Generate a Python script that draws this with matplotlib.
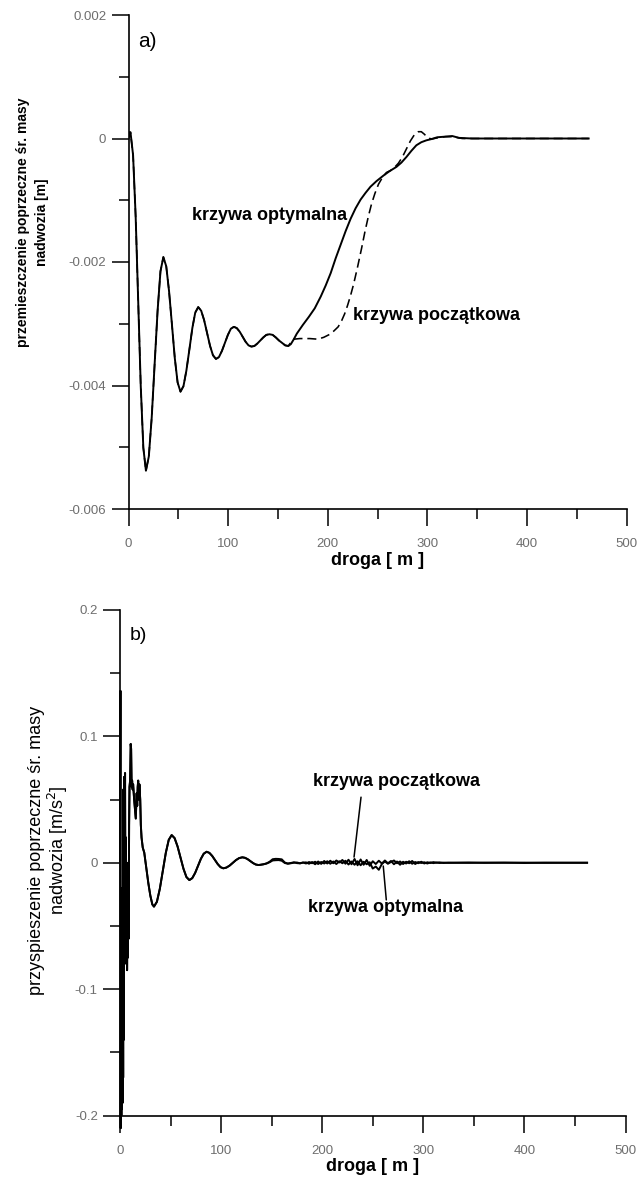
import matplotlib
matplotlib.use("Agg")
import matplotlib.pyplot as plt
from matplotlib.ticker import FixedLocator, FixedFormatter, MultipleLocator

plt.rcParams['font.family'] = ['Liberation Sans', 'DejaVu Sans']
plt.rcParams['lines.scale_dashes'] = False

# ---------------- a) przemieszczenie poprzeczne [m] ----------------
# odcinek wspólny obu krzywych (drgania gasnące)
droga_a_wsp = [0, 1, 2, 4.6, 7.2, 9.75, 12.3, 14.9, 17.5, 20.4, 23.3, 26.25, 29.2,
               32.1, 35, 37.9, 40.7, 43.6, 46.5, 49.3, 52.2, 55.2, 58.1, 61.1, 64.1,
               67, 70, 73, 75.9, 78.9, 81.9, 84.8, 87.8, 90.8, 93.8, 96.8, 99.8,
               102.8, 105.8, 108.7, 111.7, 114.6, 117.5, 120.5, 123.4, 126.4, 129.4,
               132.4, 135.4, 138.4, 141.5, 144.7, 147.8, 151, 154.2, 157.3, 160.5]
przem_wsp = [0, 0.0001, 0.0001, -0.00027, -0.00127, -0.00264, -0.00401, -0.00501,
             -0.00538, -0.00515, -0.00452, -0.00365, -0.00279, -0.00215, -0.00192,
             -0.00207, -0.00247, -0.00301, -0.00356, -0.00395, -0.0041, -0.00401,
             -0.00376, -0.00342, -0.00307, -0.00282, -0.00273, -0.00279, -0.00294,
             -0.00315, -0.00336, -0.00351, -0.00357, -0.00354, -0.00344, -0.00331,
             -0.00318, -0.00308, -0.00305, -0.00307, -0.00313, -0.00321, -0.00329,
             -0.00335, -0.00337, -0.00336, -0.00332, -0.00327, -0.00322, -0.00318,
             -0.00317, -0.00318, -0.00322, -0.00327, -0.00331, -0.00335, -0.00336]

# krzywa optymalna - dalszy przebieg
droga_a_opt = [163, 166, 169, 175, 181, 187, 193, 198, 203, 208, 213, 218, 223, 228,
               233, 238, 243, 249, 256, 262, 269, 274, 279, 284, 289, 294, 299, 304,
               310, 318, 325, 332, 345, 400, 462]
przem_opt = [-0.00333, -0.00325, -0.00316, -0.00302, -0.00289, -0.00275, -0.00256,
             -0.00238, -0.00218, -0.00194, -0.00172, -0.0015, -0.0013, -0.00113,
             -0.00099, -0.00088, -0.00078, -0.00069, -0.0006, -0.00053, -0.00046,
             -0.00039, -0.0003, -0.0002, -0.00011, -0.00006, -0.00003, -0.00001,
             0.00002, 0.00003, 0.00004, 0.00001, 0.0, 0.0, 0.0]

# krzywa początkowa - dalszy przebieg
droga_a_pocz = [163, 166, 172, 182, 190, 196, 201, 206, 210.5, 214, 217, 220, 223,
                226, 230, 234, 237.5, 240.7, 244, 247.4, 251, 255, 259, 263, 267, 271,
                275, 279, 283, 287, 291, 294, 297, 300, 304, 310, 318, 325, 335, 350,
                400, 462]
przem_pocz = [-0.0033, -0.00325, -0.00324, -0.00324, -0.00325, -0.00322, -0.00318,
              -0.00312, -0.00305, -0.00295, -0.00284, -0.0027, -0.00254, -0.00236,
              -0.00208, -0.00178, -0.0015, -0.00127, -0.00106, -0.00089, -0.00074,
              -0.00063, -0.00055, -0.00052, -0.00047, -0.0004, -0.0003, -0.00017,
              -0.00004, 0.00006, 0.00011, 0.00011, 0.00007, 0.00002, -0.00001,
              0.00001, 0.00003, 0.00003, 0.0, 0.0, 0.0, 0.0]

# ---------------- b) przyspieszenie poprzeczne [m/s2] ----------------
droga_b_wsp = [0, 0.4, 0.7, 1.0, 1.3, 1.6, 1.9, 2.2, 2.5, 2.8, 3.1, 3.4, 3.8, 4.2,
               4.6, 5.0, 5.4, 5.8, 6.2, 6.6, 7.0, 7.4, 7.8, 8.2, 8.6, 9.0, 9.4, 10.0,
               10.6, 11.0, 11.5, 12.0, 12.5, 13.0, 14.0, 15.0, 15.6, 16.5, 17.0, 17.5,
               18.0, 18.6, 19.2, 20.0, 20.6, 21.3, 22.5, 24.0, 26.0, 28.0, 30.0, 32.0,
               33.6, 36.5, 39.4, 42.35, 45.3, 48.2, 51.1, 54.0, 56.9, 59.85, 62.8,
               65.7, 68.6, 71.45, 74.3, 77.15, 80.0, 82.85, 85.7, 88.45, 91.2, 93.95,
               96.7, 99.45, 102.2, 105.3, 108.5, 111.6, 114.7, 117.9, 121.0, 123.7,
               126.3, 129.0, 131.7, 134.3, 137.0]
przysp_wsp = [0, 0.136, -0.21, -0.05, -0.20, -0.02, -0.195, -0.06, -0.19, -0.03,
              -0.17, 0.058, -0.14, 0.068, -0.08, 0.071, -0.06, 0.02, -0.02, 0.0,
              -0.085, -0.03, -0.075, 0.0, -0.06, 0.03, 0.06, 0.065, 0.094, 0.09,
              0.06, 0.065, 0.058, 0.062, 0.05, 0.04, 0.035, 0.055, 0.045, 0.06,
              0.065, 0.05, 0.062, 0.05, 0.03, 0.02, 0.012, 0.008, -0.004, -0.016,
              -0.026, -0.033, -0.0347, -0.0309, -0.0206, -0.0064, 0.0078, 0.0181,
              0.0219, 0.0195, 0.013, 0.0041, -0.0048, -0.0113, -0.0137, -0.0122,
              -0.0081, -0.0025, 0.0031, 0.0072, 0.0087, 0.0078, 0.0054, 0.0022,
              -0.0011, -0.0035, -0.0044, -0.0038, -0.0022, -0.0001, 0.0021, 0.0037,
              0.0043, 0.0039, 0.0028, 0.0013, -0.0003, -0.0014, -0.0018]

droga_b_ogon = [139, 142, 145, 148, 151, 154, 157, 160, 163, 166, 169, 172, 175, 178,
                181, 184, 187, 190, 193, 196, 199, 202, 205, 208, 211, 214, 217, 220,
                223, 226, 229, 232, 235, 238, 241, 244, 247, 250, 253, 256, 259, 262,
                265, 268, 271, 274, 277, 280, 283, 286, 289, 292, 295, 298, 301, 304,
                307, 310, 313, 316, 320, 325, 330, 345, 360, 380, 400, 420, 440, 462]
przysp_pocz_ogon = [-0.0016, -0.0012, -0.0005, 0.0008, 0.0028, 0.0031, 0.0030, 0.0027,
                    0.0002, -0.0006, -0.0002, 0.0004, -0.0003, -0.0005, 0.0001, 0.0003,
                    -0.0008, 0.0006, -0.0012, 0.0010, -0.0009, 0.0014, -0.0006, 0.0016,
                    -0.0004, 0.0018, 0.0002, 0.0022, -0.0008, 0.0024, -0.0012, 0.0030,
                    -0.0020, 0.0026, -0.0016, 0.0022, -0.0024, 0.0012, -0.0010, 0.0016,
                    -0.0006, 0.0018, -0.0004, 0.0014, -0.0012, 0.0010, -0.0016, 0.0008,
                    -0.0006, 0.0012, -0.0008, 0.0006, -0.0004, 0.0008, -0.0006, 0.0004,
                    -0.0002, 0.0005, 0.0, 0.0003, -0.0002, 0.0001, 0.0, 0.0002, -0.0001,
                    0.0001, -0.0002, 0.0001, 0.0, 0.0]
przysp_opt_ogon = [-0.0016, -0.0012, -0.0006, 0.0004, 0.0018, 0.0020, 0.0021, 0.0016,
                   -0.0002, -0.0008, -0.0004, 0.0, 0.0002, -0.0004, 0.0002, -0.0006,
                   0.0006, -0.0004, 0.0008, -0.0010, 0.0006, -0.0006, 0.0012, -0.0008,
                   0.0010, -0.0010, 0.0012, -0.0004, 0.0016, -0.0014, 0.0010, -0.0016,
                   0.0012, -0.0020, 0.0008, -0.0012, 0.0004, -0.0046, -0.0030, -0.0056,
                   -0.0010, 0.0010, -0.0008, 0.0006, 0.0018, -0.0004, 0.0010, -0.0010,
                   0.0008, -0.0004, 0.0014, -0.0010, 0.0006, -0.0002, 0.0004, -0.0006,
                   0.0003, -0.0003, 0.0002, -0.0002, 0.0001, -0.0001, 0.0, -0.0001,
                   0.0001, 0.0, 0.0001, -0.0001, 0.0, 0.0]

x_ticks = [0, 100, 200, 300, 400, 500]
x_labels = ["0", "100", "200", "300", "400", "500"]
ya_ticks = [-0.006, -0.004, -0.002, 0.0, 0.002]
ya_labels = ["-0.006", "-0.004", "-0.002", "0", "0.002"]
yb_ticks = [-0.2, -0.1, 0.0, 0.1, 0.2]
yb_labels = ["-0.2", "-0.1", "0", "0.1", "0.2"]

W, H = 638, 1182
fig = plt.figure(figsize=(W / 100, H / 100), dpi=100)

ax_a = fig.add_axes([128.5 / W, 1 - 509 / H, 498 / W, 494 / H])
ax_b = fig.add_axes([120 / W, 1 - 1115.5 / H, 505.5 / W, 505.5 / H])


def styl_osi(ax, xt, xl, yt, yl, xminor, yminor):
    for s in ("top", "right"):
        ax.spines[s].set_visible(False)
    for s in ("left", "bottom"):
        ax.spines[s].set_linewidth(1.2)
    ax.xaxis.set_major_locator(FixedLocator(xt))
    ax.xaxis.set_major_formatter(FixedFormatter(xl))
    ax.yaxis.set_major_locator(FixedLocator(yt))
    ax.yaxis.set_major_formatter(FixedFormatter(yl))
    ax.xaxis.set_minor_locator(MultipleLocator(xminor))
    ax.yaxis.set_minor_locator(MultipleLocator(yminor))
    ax.tick_params(which="major", direction="out", length=12, width=1.1,
                   labelsize=9.5, labelcolor="#6e6e6e", color="black")
    ax.tick_params(which="minor", direction="out", length=7, width=1.1, color="black")
    ax.tick_params(axis="x", which="major", pad=9)
    ax.tick_params(axis="y", which="major", pad=4)


# panel a
ax_a.plot(droga_a_wsp + droga_a_pocz, przem_wsp + przem_pocz, color="black",
          lw=1.15, dashes=(6.5, 3.5))
ax_a.plot(droga_a_wsp + droga_a_opt, przem_wsp + przem_opt, color="black", lw=1.4)
ax_a.set_xlim(0, 500)
ax_a.set_ylim(-0.006, 0.002)
styl_osi(ax_a, x_ticks, x_labels, ya_ticks, ya_labels, 50, 0.001)
ax_a.set_xlabel("droga [ m ]", fontsize=13, fontweight="bold", labelpad=1)
ax_a.text(9.5, 0.00157, "a)", fontsize=15, va="center", ha="left")
ax_a.text(142, -0.00124, "krzywa optymalna", fontsize=13, fontweight="bold",
          ha="center", va="center")
ax_a.text(309.4, -0.00287, "krzywa początkowa", fontsize=13, fontweight="bold",
          ha="center", va="center")
fig.text(32.5 / W, 1 - 222 / H, "przemieszczenie poprzeczne śr. masy\nnadwozia [m]",
         rotation=90, ha="center", va="center", multialignment="center",
         fontsize=10, fontweight="bold", linespacing=1.5)

# panel b
ax_b.plot(droga_b_wsp + droga_b_ogon, przysp_wsp + przysp_pocz_ogon, color="black",
          lw=1.4, clip_on=False)
ax_b.plot(droga_b_wsp + droga_b_ogon, przysp_wsp + przysp_opt_ogon, color="black",
          lw=1.4, clip_on=False)
ax_b.set_xlim(0, 500)
ax_b.set_ylim(-0.2, 0.2)
styl_osi(ax_b, x_ticks, x_labels, yb_ticks, yb_labels, 50, 0.05)
ax_b.set_xlabel("droga [ m ]", fontsize=13, fontweight="bold", labelpad=1)
ax_b.text(9.9, 0.1797, "b)", fontsize=14, va="center", ha="left")
ax_b.text(273.5, 0.0639, "krzywa początkowa", fontsize=13, fontweight="bold",
          ha="center", va="center")
ax_b.text(263.1, -0.0358, "krzywa optymalna", fontsize=13, fontweight="bold",
          ha="center", va="center")
ax_b.annotate("", xy=(231.5, 0.0045), xytext=(238.4, 0.0519),
              arrowprops=dict(arrowstyle="-", lw=1.1, color="black",
                              shrinkA=0, shrinkB=0))
ax_b.annotate("", xy=(260.4, -0.0026), xytext=(263.4, -0.0294),
              arrowprops=dict(arrowstyle="-", lw=1.1, color="black",
                              shrinkA=0, shrinkB=0))
fig.text(48.8 / W, 1 - 850 / H,
         "przyspieszenie poprzeczne śr. masy\nnadwozia [m/s$^2$]",
         rotation=90, ha="center", va="center", multialignment="center",
         fontsize=13, linespacing=1.05)

fig.savefig("out.png", dpi=100, facecolor="white")
